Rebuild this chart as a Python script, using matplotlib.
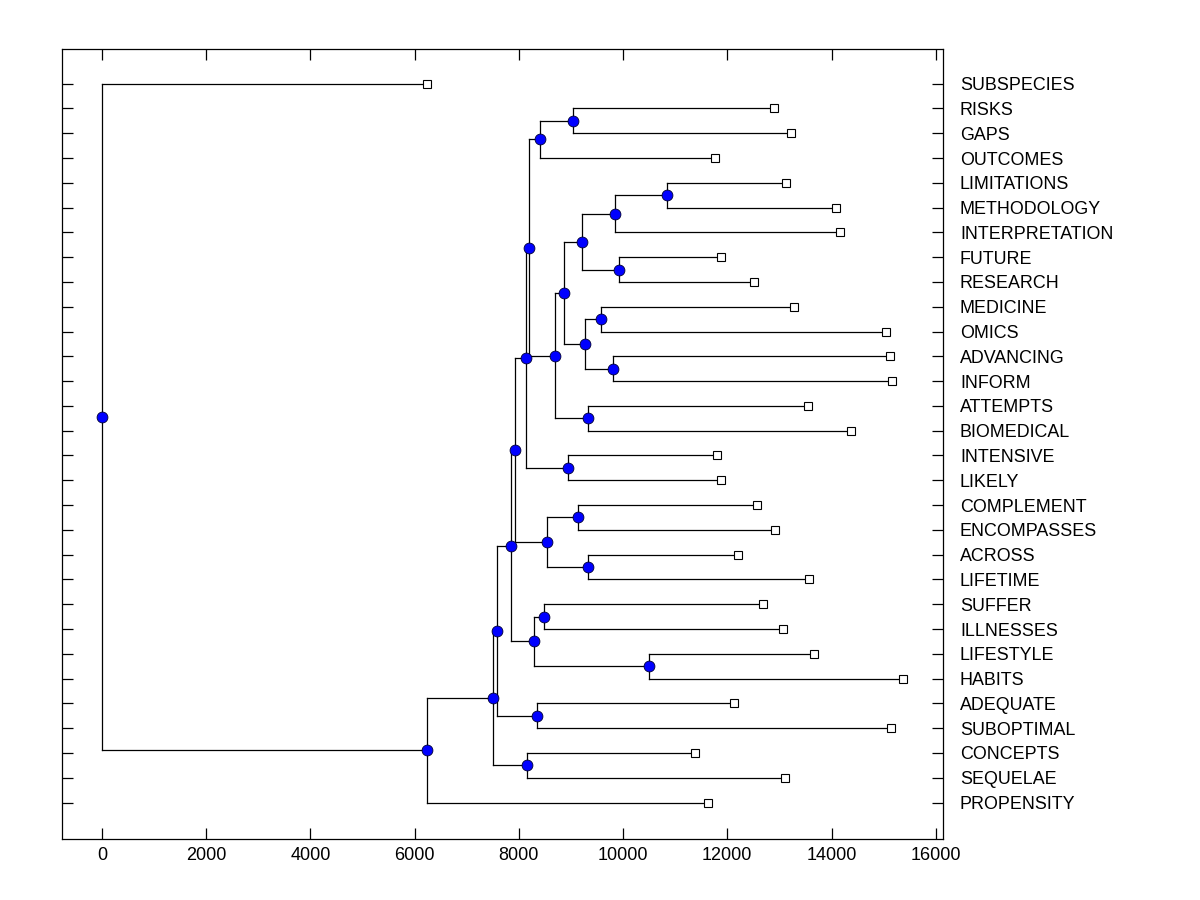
import matplotlib
matplotlib.use("Agg")
import matplotlib.pyplot as plt

plt.rcParams['font.family'] = ['Liberation Sans', 'DejaVu Sans']

# Leaves (top to bottom) and their distances from the root
leaf_labels = ["SUBSPECIES", "RISKS", "GAPS", "OUTCOMES", "LIMITATIONS", "METHODOLOGY",
               "INTERPRETATION", "FUTURE", "RESEARCH", "MEDICINE", "OMICS", "ADVANCING",
               "INFORM", "ATTEMPTS", "BIOMEDICAL", "INTENSIVE", "LIKELY", "COMPLEMENT",
               "ENCOMPASSES", "ACROSS", "LIFETIME", "SUFFER", "ILLNESSES", "LIFESTYLE",
               "HABITS", "ADEQUATE", "SUBOPTIMAL", "CONCEPTS", "SEQUELAE", "PROPENSITY"]
leaf_dist = [6233, 12891, 13220, 11760, 13124, 14084,
             14160, 11877, 12507, 13275, 15044, 15119,
             15161, 13543, 14372, 11794, 11877, 12569,
             12912, 12199, 13563, 12679, 13063, 13659,
             15367, 12123, 15140, 11376, 13104, 11623]

# Internal nodes: children ids (leaves 0..29, internal nodes 30..) and node distance
merge_left = [1, 30, 4, 32, 7, 33, 9, 11, 36, 35, 13, 39, 31, 15, 42, 17, 19, 45, 44,
              21, 23, 49, 48, 25, 52, 27, 54, 56, 0]
merge_right = [2, 3, 5, 6, 8, 34, 10, 12, 37, 38, 14, 40, 41, 16, 43, 18, 20, 46, 47,
               22, 24, 50, 51, 26, 53, 28, 55, 29, 57]
node_dist = [9045, 8400, 10841, 9840, 9930, 9203, 9567, 9815, 9260, 8875, 9335, 8684,
             8204, 8951, 8128, 9143, 9335, 8531, 7932, 8488, 10491, 8300, 7840, 8340,
             7588, 8148, 7508, 6233, 0]

xticks = [0, 2000, 4000, 6000, 8000, 10000, 12000, 14000, 16000]

n_leaves = len(leaf_labels)
xs = list(leaf_dist)
ys = list(range(n_leaves))
for a, b, d in zip(merge_left, merge_right, node_dist):
    xs.append(d)
    ys.append((ys[a] + ys[b]) / 2.0)

fig = plt.figure(figsize=(12, 9), dpi=100)
ax = fig.add_axes([0.0517, 0.0678, 0.7344, 0.8778])

lw = 0.9
for i, (a, b, d) in enumerate(zip(merge_left, merge_right, node_dist)):
    ax.plot([d, d], [ys[a], ys[b]], color='black', lw=lw, zorder=1)
    for c in (a, b):
        ax.plot([d, xs[c]], [ys[c], ys[c]], color='black', lw=lw, zorder=1)

# internal node markers
ax.plot(xs[n_leaves:], ys[n_leaves:], linestyle='none', marker='o', markersize=7.8,
        markerfacecolor='#0000ff', markeredgecolor='#000033', markeredgewidth=0.6, zorder=3)
# leaf markers
ax.plot(leaf_dist, list(range(n_leaves)), linestyle='none', marker='s', markersize=6,
        markerfacecolor='white', markeredgecolor='black', markeredgewidth=0.8, zorder=3)

ax.set_xlim(-766, 16145)
ax.set_ylim(n_leaves - 1 + 1.47, -1.40)
ax.set_xticks(xticks)
ax.set_xticklabels([str(t) for t in xticks], fontsize=13)
ax.set_yticks(range(n_leaves))
ax.set_yticklabels(leaf_labels, fontsize=12.9)
ax.tick_params(axis='x', direction='in', top=True, bottom=True, length=8, width=0.9, pad=6)
ax.tick_params(axis='y', direction='in', left=True, right=True, labelleft=False,
               labelright=True, length=8, width=0.9, pad=12)
for s in ax.spines.values():
    s.set_linewidth(0.9)

fig.savefig("out.png", dpi=100)
